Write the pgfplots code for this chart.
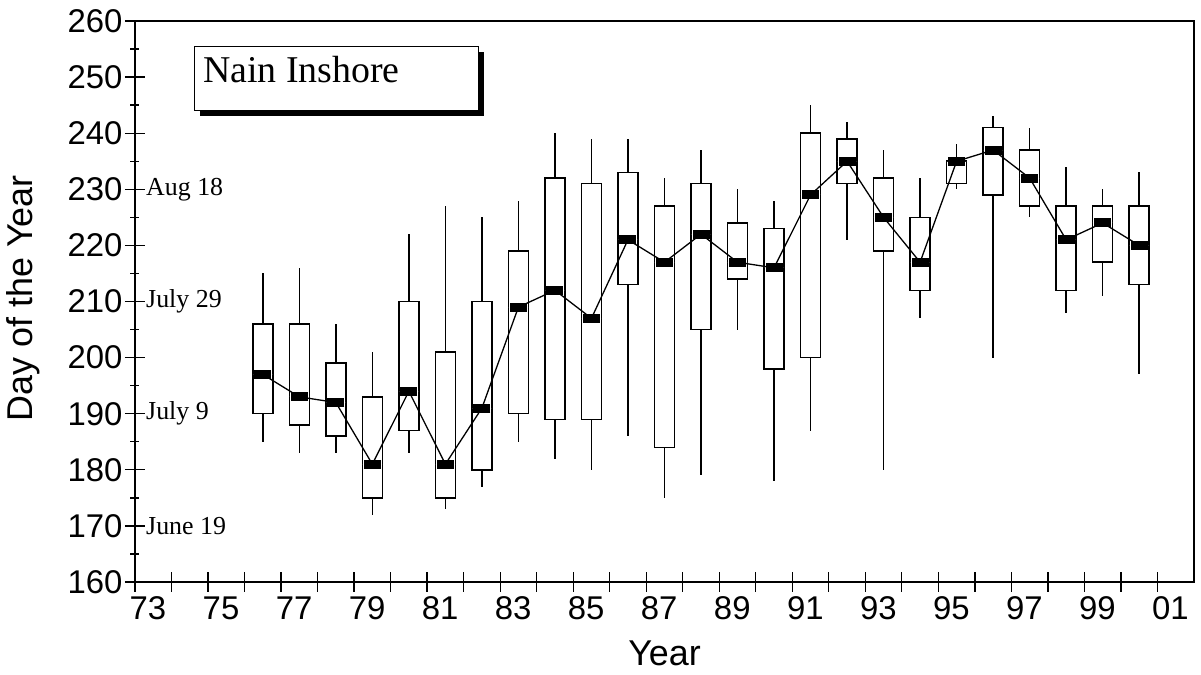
\documentclass[border=0pt]{standalone}
\usepackage{fontspec}
\setmainfont{Liberation Serif}
\setsansfont{Liberation Sans}
\usepackage{pgfplots}
\pgfplotsset{compat=1.18}
\usepgfplotslibrary{statistics}

% one box per year: position, low whisker, Q1, median, Q3, high whisker
\newcommand{\yearbox}[6]{%
  \addplot[black, fill=white, line width=1.5bp,
    boxplot prepared={draw position=#1, lower whisker=#2, lower quartile=#3,
      median=#4, upper quartile=#5, upper whisker=#6}] coordinates {};}

\begin{document}
\begin{tikzpicture}
\path[use as bounding box] (-135bp,-93bp) rectangle (1066bp,582bp);
\begin{axis}[
  scale only axis, width=1059bp, height=561bp,
  xmin=73, xmax=102, ymin=160, ymax=260,
  axis line style={line width=1.6bp},
  tick style={black, line width=1.3bp},
  tick align=center, tick pos=left,
  major tick length=20bp, minor tick length=9bp,
  xtick={73,74,...,101},
  xticklabels={73,,75,,77,,79,,81,,83,,85,,87,,89,,91,,93,,95,,97,,99,,01},
  ytick={160,170,...,260},
  minor ytick={165,175,...,255},
  /pgf/number format/assume math mode=true,
  tick label style={font=\sffamily\fontsize{33}{33}\selectfont},
  xticklabel style={xshift=13bp, yshift=-1bp},
  yticklabel style={xshift=1bp},
  xlabel={Year}, ylabel={Day of the Year},
  xlabel style={font=\sffamily\fontsize{36}{36}\selectfont,
    at={(axis description cs:0.5,-0.148)}, anchor=base},
  ylabel style={font=\sffamily\fontsize{36}{36}\selectfont,
    at={(axis description cs:-0.106,0.506)}, anchor=center, rotate=0},
  boxplot/draw direction=y,
  boxplot/box extend=0.55,
  boxplot/whisker extend=0,
  boxplot/every median/.style={draw=none},
  clip=false,
]
\yearbox{76.5}{185}{190}{197}{206}{215}
\yearbox{77.5}{183}{188}{193}{206}{216}
\yearbox{78.5}{183}{186}{192}{199}{206}
\yearbox{79.5}{172}{175}{181}{193}{201}
\yearbox{80.5}{183}{187}{194}{210}{222}
\yearbox{81.5}{173}{175}{181}{201}{227}
\yearbox{82.5}{177}{180}{191}{210}{225}
\yearbox{83.5}{185}{190}{209}{219}{228}
\yearbox{84.5}{182}{189}{212}{232}{240}
\yearbox{85.5}{180}{189}{207}{231}{239}
\yearbox{86.5}{186}{213}{221}{233}{239}
\yearbox{87.5}{175}{184}{217}{227}{232}
\yearbox{88.5}{179}{205}{222}{231}{237}
\yearbox{89.5}{205}{214}{217}{224}{230}
\yearbox{90.5}{178}{198}{216}{223}{228}
\yearbox{91.5}{187}{200}{229}{240}{245}
\yearbox{92.5}{221}{231}{235}{239}{242}
\yearbox{93.5}{180}{219}{225}{232}{237}
\yearbox{94.5}{207}{212}{217}{225}{232}
\yearbox{95.5}{230}{231}{235}{235}{238}
\yearbox{96.5}{200}{229}{237}{241}{243}
\yearbox{97.5}{225}{227}{232}{237}{241}
\yearbox{98.5}{208}{212}{221}{227}{234}
\yearbox{99.5}{211}{217}{224}{227}{230}
\yearbox{100.5}{197}{213}{220}{227}{233}

% medians joined by a line
\addplot[black, line width=1.3bp, mark=-, mark size=8.5bp,
  mark options={line width=9bp}] coordinates {
  (76.5,197) (77.5,193) (78.5,192) (79.5,181) (80.5,194) (81.5,181)
  (82.5,191) (83.5,209) (84.5,212) (85.5,207) (86.5,221) (87.5,217)
  (88.5,222) (89.5,217) (90.5,216) (91.5,229) (92.5,235) (93.5,225)
  (94.5,217) (95.5,235) (96.5,237) (97.5,232) (98.5,221) (99.5,224)
  (100.5,220)
};

% date labels
\node[anchor=west, font=\fontsize{26}{26}\selectfont, inner sep=0pt, xshift=11bp]
  at (axis cs:73,230) {Aug 18};
\node[anchor=west, font=\fontsize{26}{26}\selectfont, inner sep=0pt, xshift=11bp]
  at (axis cs:73,210) {July 29};
\node[anchor=west, font=\fontsize{26}{26}\selectfont, inner sep=0pt, xshift=11bp]
  at (axis cs:73,190) {July 9};
\node[anchor=west, font=\fontsize{26}{26}\selectfont, inner sep=0pt, xshift=11bp]
  at (axis cs:73,170) {June 19};

% title box with shadow
\fill[black] (axis cs:74.78,243.1) rectangle (axis cs:82.56,254.5);
\draw[fill=white, line width=1bp] (axis cs:74.64,244.0) rectangle (axis cs:82.42,255.4);
\node[anchor=base west, inner sep=0pt, font=\fontsize{38}{38}\selectfont]
  at (axis cs:74.86,248.95) {Nain Inshore};
\end{axis}
\end{tikzpicture}
\end{document}
